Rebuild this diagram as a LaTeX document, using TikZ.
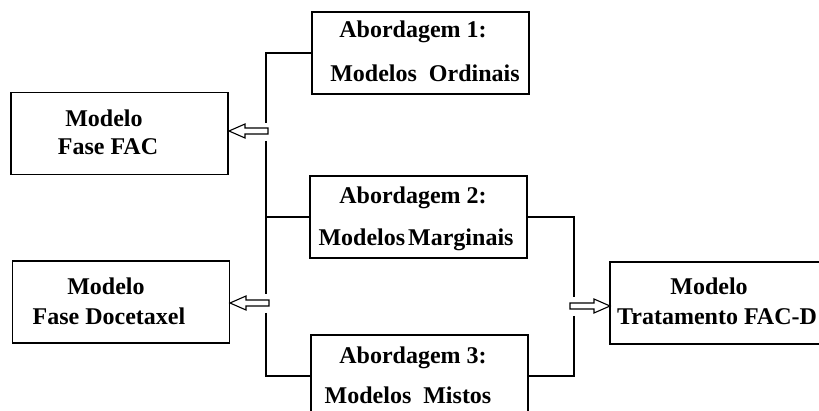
\documentclass[tikz,border=0pt]{standalone}
\usepackage{fontspec}
\setmainfont{Liberation Serif}
\begin{document}
\begin{tikzpicture}[x=1pt,y=-1pt,
  box/.style={draw,line width=1.4pt,rectangle,inner sep=0pt,minimum width=217pt,minimum height=82pt},
  txt/.style={font=\bfseries\fontsize{24}{28}\selectfont,anchor=base,inner sep=0pt},
  conn/.style={line width=1.4pt},
  blk/.style={draw,line width=1.1pt,fill=white,line join=miter}]
\useasboundingbox (0,0) rectangle (819,411);
% boxes
\node[box] (fac) at (119.5,133.5) {};
\node[box] (doc) at (121,302) {};
\node[box] (a1) at (420.5,53) {};
\node[box] (a2) at (418.5,217) {};
\node[box] (a3) at (419.5,376) {};
\node[box,minimum width=240pt] (trat) at (730,303) {};
% texts
\node[txt] (t1) at (104,127) {Modelo};
\node[txt] (t2) at (108,155) {Fase FAC};
\node[txt] (t3) at (106,295) {Modelo};
\node[txt] (t4) at (109,325) {Fase Docetaxel};
\node[txt] (t5) at (709,295) {Modelo};
\node[txt,anchor=base west] (t6) at (617,325) {Tratamento FAC-D};
\node[txt] (t7) at (413,38) {Abordagem 1:};
\node[txt] (t8) at (425,82) {Modelos\ \ Ordinais};
\node[txt] (t9) at (413,204) {Abordagem 2:};
\node[txt] (t10) at (416,246) {Modelos\hspace{3pt}Marginais};
\node[txt] (t11) at (413,363) {Abordagem 3:};
\node[txt] (t12) at (408,403) {Modelos\ \ Mistos};
% connectors
\coordinate (v1a) at (266,123);
\coordinate (v1b) at (266,141);
\coordinate (v2a) at (266,294);
\coordinate (v2b) at (266,313);
\coordinate (r1) at (574,297);
\coordinate (r2) at (574,316);
\draw[conn] (a1.west) -| (v1a);
\draw[conn] (v1b) -- (v2a);
\draw[conn] (v2b) |- (a3.west);
\draw[conn] (a2.west) -- (a2.west -| v1a);
\draw[conn] (a2.east) -| (r1);
\draw[conn] (r2) |- (a3.east);
% block arrows
\coordinate (p1) at (229,131);
\coordinate (p2) at (230,303);
\coordinate (p3) at (610,306);
\draw[blk] (p1) -- ++(16,-7) -- ++(0,4) -- ++(23,0) -- ++(0,6) -- ++(-23,0) -- ++(0,4) -- cycle;
\draw[blk] (p2) -- ++(16,-7) -- ++(0,4) -- ++(23,0) -- ++(0,6) -- ++(-23,0) -- ++(0,4) -- cycle;
\draw[blk] (p3) -- ++(-16,-7) -- ++(0,4) -- ++(-24,0) -- ++(0,6) -- ++(24,0) -- ++(0,4) -- cycle;
\end{tikzpicture}
\end{document}
